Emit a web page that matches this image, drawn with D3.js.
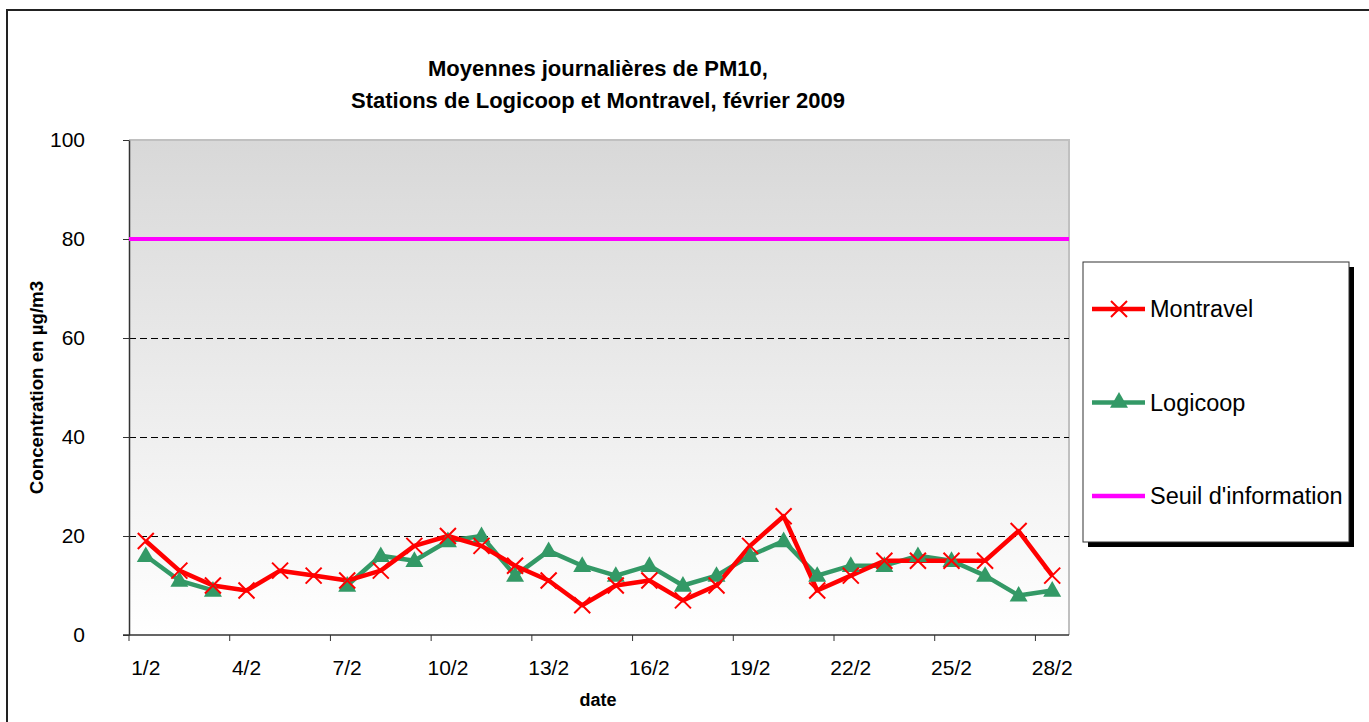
<!DOCTYPE html>
<html>
<head>
<meta charset="utf-8">
<script src="https://cdn.jsdelivr.net/npm/d3@7"></script>
<style>
  body { margin: 0; background: #fff; }
  text { font-family: "Liberation Sans", Arial, sans-serif; }
</style>
</head>
<body>
<script>
// days of february 2009
var dates = ["1/2","2/2","3/2","4/2","5/2","6/2","7/2","8/2","9/2","10/2",
             "11/2","12/2","13/2","14/2","15/2","16/2","17/2","18/2","19/2","20/2",
             "21/2","22/2","23/2","24/2","25/2","26/2","27/2","28/2"];
// PM10 daily means (µg/m3)
var montravel = [19,13,10,9,13,12,11,13,18,20,18,14,11,6,10,11,7,10,18,24,9,12,15,15,15,15,21,12];
var logicoop  = [16,11,9,null,null,null,10,16,15,19,20,12,17,14,12,14,10,12,16,19,12,14,14,16,15,12,8,9];
var seuil = 80;
var yTicks = [0,20,40,60,80,100];
var legendNames = ["Montravel","Logicoop","Seuil d'information"];

var W = 1369, H = 722;
var pLeft = 129, pRight = 1069, pTop = 140, pBottom = 635;

var svg = d3.select("body").append("svg")
    .attr("width", W)
    .attr("height", H);

// gradient for the plot area
var defs = svg.append("defs");
var grad = defs.append("linearGradient")
    .attr("id", "bg")
    .attr("x1", 0).attr("y1", 0).attr("x2", 0).attr("y2", 1);
grad.append("stop").attr("offset", "0%").attr("stop-color", "#d8d8d8");
grad.append("stop").attr("offset", "100%").attr("stop-color", "#ffffff");

// outer chart border
svg.append("rect")
    .attr("x", 7).attr("y", 10)
    .attr("width", W + 20).attr("height", H + 20)
    .attr("fill", "#fff")
    .attr("stroke", "#222")
    .attr("stroke-width", 2);

var x = d3.scaleBand().domain(dates).range([pLeft, pRight]).padding(0);
var y = d3.scaleLinear().domain([0, 100]).range([pBottom, pTop]);
function cx(d) { return x(d) + x.bandwidth() / 2; }

// plot area
svg.append("rect")
    .attr("x", pLeft).attr("y", pTop)
    .attr("width", pRight - pLeft).attr("height", pBottom - pTop)
    .attr("fill", "url(#bg)");
// gray border top and right
svg.append("path")
    .attr("d", "M" + pLeft + "," + pTop + "H" + pRight + "V" + pBottom)
    .attr("fill", "none")
    .attr("stroke", "#c0c0c0")
    .attr("stroke-width", 2);

// dashed gridlines
svg.selectAll(".grid").data([20, 40, 60]).enter()
    .append("line")
    .attr("class", "grid")
    .attr("x1", pLeft).attr("x2", pRight)
    .attr("y1", function(d){ return y(d) + 0.5; })
    .attr("y2", function(d){ return y(d) + 0.5; })
    .attr("stroke", "#000")
    .attr("stroke-width", 1)
    .attr("stroke-dasharray", "7,4");

// y axis
var yAxis = svg.append("g")
    .attr("transform", "translate(" + pLeft + ",0)")
    .call(d3.axisLeft(y).tickValues(yTicks).tickSize(6).tickSizeOuter(0).tickPadding(38));
yAxis.select(".domain").attr("stroke", "#333").attr("stroke-width", 1.5);
yAxis.selectAll(".tick line").attr("stroke", "#333");
yAxis.selectAll(".tick text")
    .attr("font-size", 21)
    .attr("fill", "#000")
    .attr("font-family", "Liberation Sans, Arial, sans-serif");

// x axis: labels every 3 days, tick marks at the band edges
var shown = dates.filter(function(d, i){ return i % 3 == 0; });
var xg = svg.append("g");
xg.append("line")
    .attr("x1", pLeft - 6).attr("x2", pRight)
    .attr("y1", pBottom).attr("y2", pBottom)
    .attr("stroke", "#333").attr("stroke-width", 1.5);
xg.selectAll(".xt").data(shown).enter()
    .append("line")
    .attr("x1", function(d){ return x(d); })
    .attr("x2", function(d){ return x(d); })
    .attr("y1", pBottom).attr("y2", pBottom + 6)
    .attr("stroke", "#333");
xg.selectAll(".xl").data(shown).enter()
    .append("text")
    .attr("x", function(d){ return cx(d); })
    .attr("y", 675)
    .attr("text-anchor", "middle")
    .attr("font-size", 21)
    .text(function(d){ return d; });

// threshold line
svg.append("line")
    .attr("x1", pLeft).attr("x2", pRight)
    .attr("y1", y(seuil)).attr("y2", y(seuil))
    .attr("stroke", "#ff00ff")
    .attr("stroke-width", 4);

// series lines
var line = d3.line()
    .defined(function(d){ return d.v != null; })
    .x(function(d){ return cx(d.date); })
    .y(function(d){ return y(d.v); });

var logData = dates.map(function(d, i){ return {date: d, v: logicoop[i]}; });
var monData = dates.map(function(d, i){ return {date: d, v: montravel[i]}; });

svg.append("path").datum(logData)
    .attr("d", line)
    .attr("fill", "none")
    .attr("stroke", "#339966")
    .attr("stroke-width", 4.5)
    .attr("stroke-linejoin", "round");

svg.append("path").datum(monData)
    .attr("d", line)
    .attr("fill", "none")
    .attr("stroke", "#ff0000")
    .attr("stroke-width", 4.5)
    .attr("stroke-linejoin", "round");

var tri = d3.symbol().type(d3.symbolTriangle).size(140);
svg.selectAll(".tri").data(logData.filter(function(d){ return d.v != null; })).enter()
    .append("path")
    .attr("d", tri)
    .attr("transform", function(d){ return "translate(" + cx(d.date) + "," + (y(d.v) + 1) + ")"; })
    .attr("fill", "#339966");

function cross(s) {
    return "M" + (-s) + "," + (-s) + "L" + s + "," + s + "M" + (-s) + "," + s + "L" + s + "," + (-s);
}
svg.selectAll(".crs").data(monData).enter()
    .append("path")
    .attr("d", cross(8))
    .attr("transform", function(d){ return "translate(" + cx(d.date) + "," + y(d.v) + ")"; })
    .attr("stroke", "#ff0000")
    .attr("stroke-width", 2)
    .attr("fill", "none");

// titles
var title = svg.append("text")
    .attr("text-anchor", "middle")
    .attr("font-size", 22)
    .attr("font-weight", "bold");
title.append("tspan").attr("x", 598).attr("y", 76).text("Moyennes journalières de PM10,");
title.append("tspan").attr("x", 598).attr("y", 108).text("Stations de Logicoop et Montravel, février 2009");

svg.append("text")
    .attr("x", 598).attr("y", 706)
    .attr("text-anchor", "middle")
    .attr("font-size", 18)
    .attr("font-weight", "bold")
    .text("date");

svg.append("text")
    .attr("transform", "translate(43," + ((pTop + pBottom) / 2) + ") rotate(-90)")
    .attr("text-anchor", "middle")
    .attr("font-size", 18.7)
    .attr("font-weight", "bold")
    .text("Concentration en µg/m3");

// legend
var lg = svg.append("g");
lg.append("rect")
    .attr("x", 1088).attr("y", 267).attr("width", 266).attr("height", 280)
    .attr("fill", "#000");
lg.append("rect")
    .attr("x", 1083).attr("y", 262).attr("width", 266).attr("height", 280)
    .attr("fill", "#fff")
    .attr("stroke", "#333")
    .attr("stroke-width", 1);

var items = lg.selectAll(".item").data(legendNames).enter()
    .append("g")
    .attr("transform", function(d, i){ return "translate(1092," + (309 + i * 93.5) + ")"; });
var colors = ["#ff0000", "#339966", "#ff00ff"];
items.append("line")
    .attr("x1", 0).attr("x2", 53)
    .attr("stroke", function(d, i){ return colors[i]; })
    .attr("stroke-width", 4.5);
items.filter(function(d, i){ return i == 0; }).append("path")
    .attr("d", cross(8))
    .attr("transform", "translate(27,0)")
    .attr("stroke", "#ff0000").attr("stroke-width", 2);
items.filter(function(d, i){ return i == 1; }).append("path")
    .attr("d", tri)
    .attr("transform", "translate(27,0)")
    .attr("fill", "#339966");
items.append("text")
    .attr("x", 58).attr("y", 8)
    .attr("font-size", 23.5)
    .text(function(d){ return d; });
</script>
</body>
</html>
